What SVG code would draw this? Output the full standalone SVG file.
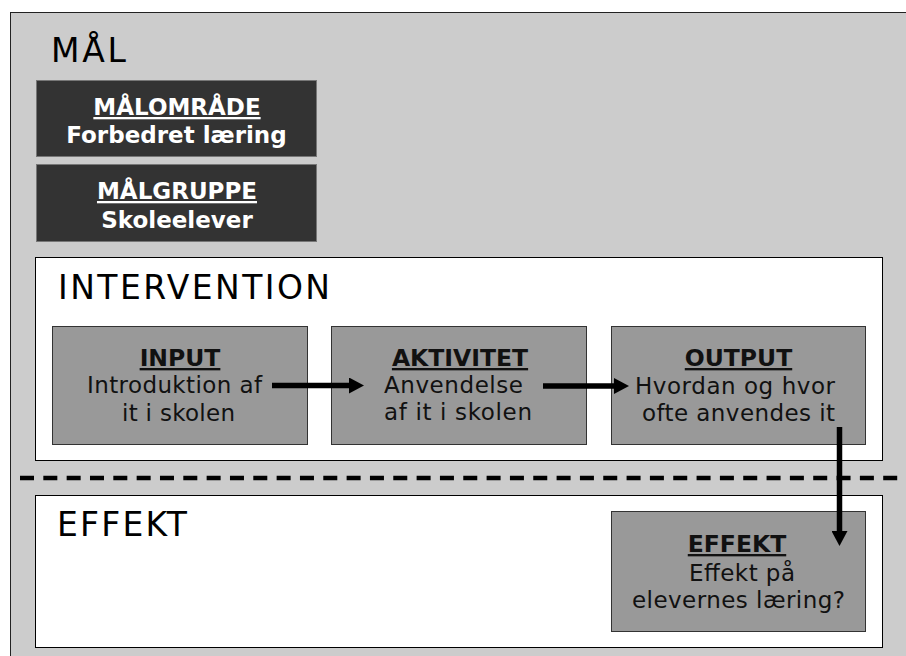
<svg xmlns="http://www.w3.org/2000/svg" width="906" height="656" viewBox="0 0 906 656">
<defs>
<style>
.h{font-family:"DejaVu Sans",Verdana,sans-serif;font-size:33px;fill:#000}
.t{font-family:"DejaVu Sans",Verdana,sans-serif;font-size:23px;fill:#111}
.b{font-family:"DejaVu Sans",Verdana,sans-serif;font-size:23.5px;font-weight:bold;text-decoration:underline;text-anchor:middle;fill:#111}
.bw{font-family:"DejaVu Sans",Verdana,sans-serif;font-size:23px;font-weight:bold;fill:#fff;text-anchor:middle}
.dark{fill:#333;stroke:#777;stroke-width:1}
.gray{fill:#999;stroke:#333;stroke-width:1}
.white{fill:#fff;stroke:#000;stroke-width:1}
.conn{stroke:#000;stroke-width:5.5;fill:none}
</style>
<marker id="ah" markerUnits="userSpaceOnUse" markerWidth="16" markerHeight="16" refX="0" refY="8" orient="auto" viewBox="0 0 16 16">
<path d="M0,0 L15,8 L0,16 z" fill="#000"/>
</marker>
</defs>
<g id="background">
<rect x="10.5" y="12.5" width="920" height="660" fill="#ccc" stroke="#222" stroke-width="1"/>
<text class="h" x="51" y="62" font-size="30" textLength="75" lengthAdjust="spacing">MÅL</text>
</g>
<g id="malomrade">
<rect class="dark" x="36.5" y="80.5" width="280" height="76"/>
<text class="bw" x="177" y="115" text-decoration="underline">MÅLOMRÅDE</text>
<text class="bw" x="176.5" y="143">Forbedret læring</text>
</g>
<g id="malgruppe">
<rect class="dark" x="36.5" y="164.5" width="280" height="77"/>
<text class="bw" x="177" y="199" text-decoration="underline">MÅLGRUPPE</text>
<text class="bw" x="177" y="228">Skoleelever</text>
</g>
<g id="intervention">
<rect class="white" x="35.5" y="257.5" width="847" height="203"/>
<text class="h" x="58" y="299" textLength="272" lengthAdjust="spacing">INTERVENTION</text>
</g>
<g id="effekt-section">
<rect class="white" x="35.5" y="495.5" width="847" height="152"/>
<text class="h" x="57" y="536" textLength="130" lengthAdjust="spacing">EFFEKT</text>
</g>
<g id="input">
<rect class="gray" x="52.5" y="326.5" width="255" height="118"/>
<text class="b" x="180" y="366">INPUT</text>
<text class="t" x="87" y="393" textLength="175" lengthAdjust="spacing">Introduktion af</text>
<text class="t" x="122" y="421" textLength="113" lengthAdjust="spacing">it i skolen</text>
</g>
<g id="aktivitet">
<rect class="gray" x="331.5" y="326.5" width="255" height="118"/>
<text class="b" x="460" y="366">AKTIVITET</text>
<text class="t" x="384" y="393" textLength="139" lengthAdjust="spacing">Anvendelse</text>
<text class="t" x="384" y="420" textLength="148" lengthAdjust="spacing">af it i skolen</text>
</g>
<g id="output">
<rect class="gray" x="611.5" y="326.5" width="254" height="118"/>
<text class="b" x="738.5" y="366">OUTPUT</text>
<text class="t" x="635" y="394" textLength="200" lengthAdjust="spacing">Hvordan og hvor</text>
<text class="t" x="642" y="421" textLength="193" lengthAdjust="spacing">ofte anvendes it</text>
</g>
<g id="effekt">
<rect class="gray" x="611.5" y="511.5" width="254" height="120"/>
<text class="b" x="737" y="552">EFFEKT</text>
<text class="t" x="689" y="581" textLength="106" lengthAdjust="spacing">Effekt på</text>
<text class="t" x="632" y="608" textLength="213" lengthAdjust="spacing">elevernes læring?</text>
</g>
<g id="connectors">
<line x1="20" y1="478" x2="906" y2="478" stroke="#000" stroke-width="4.5" stroke-dasharray="14 9.33"/>
<line class="conn" x1="272" y1="385.5" x2="349" y2="385.5" marker-end="url(#ah)"/>
<line class="conn" x1="543" y1="386" x2="614" y2="386" marker-end="url(#ah)"/>
<line class="conn" x1="839.5" y1="427" x2="839.5" y2="531" marker-end="url(#ah)"/>
</g>
</svg>
